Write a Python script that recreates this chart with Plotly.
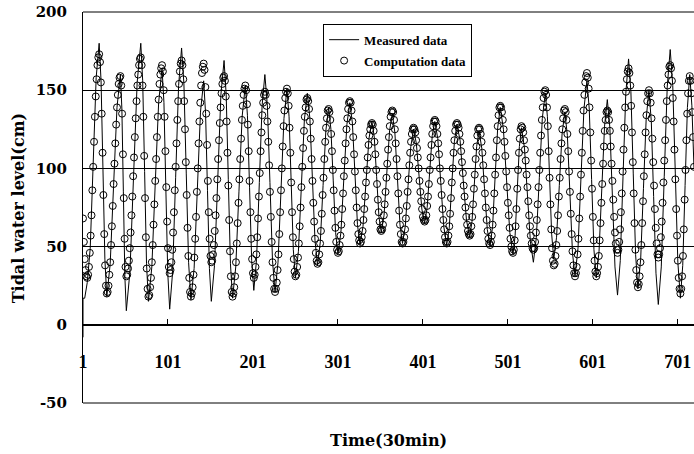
import plotly.graph_objects as go

# ---------------- data ----------------
# Computation data: one value per 30-min time step (t = 1 .. 720)
computation = [
    68, 53, 42, 35, 31, 30,
    32, 37, 46, 57, 70, 86, 101, 117, 133, 146, 157, 166, 171, 173,
    168, 155, 135, 110, 83, 58, 38, 25, 20,
    21, 25, 32, 40, 51, 63, 76, 90, 103, 116, 128, 139, 147, 154, 158, 159,
    153, 135, 109, 81, 55, 37, 31,
    32, 36, 41, 49, 59, 70, 82, 95, 107, 120, 132, 143, 153, 160, 166, 170, 171,
    166, 153, 133, 108, 81, 56, 36, 23, 18,
    19, 24, 30, 40, 51, 64, 77, 92, 106, 120, 133, 144, 154, 160, 164, 166,
    162, 150, 133, 111, 88, 66, 49, 37, 33,
    35, 40, 48, 59, 72, 86, 101, 116, 131, 143, 154, 162, 167, 169,
    166, 157, 143, 125, 104, 83, 62, 44, 30, 21, 18,
    20, 24, 32, 43, 55, 69, 85, 100, 116, 130, 142, 153, 161, 165, 167,
    163, 152, 135, 115, 92, 72, 55, 44, 40,
    41, 45, 51, 60, 70, 81, 93, 106, 118, 129, 139, 148, 154, 158, 159,
    156, 146, 130, 110, 89, 67, 47, 31, 21, 18,
    20, 24, 31, 40, 52, 65, 78, 93, 106, 119, 131, 140, 147, 151, 153,
    150, 141, 128, 111, 92, 72, 55, 42, 33, 30,
    32, 37, 45, 56, 68, 82, 97, 111, 123, 134, 142, 147, 149,
    147, 140, 130, 117, 102, 85, 69, 53, 40, 30, 23, 21,
    23, 27, 35, 45, 58, 72, 86, 100, 114, 127, 137, 145, 149, 151,
    148, 140, 126, 110, 91, 72, 56, 42, 34, 31,
    32, 37, 43, 52, 63, 75, 88, 101, 113, 124, 133, 139, 144, 145,
    143, 138, 130, 119, 106, 92, 78, 66, 55, 46, 41, 39,
    40, 45, 52, 60, 71, 83, 94, 106, 117, 126, 132, 137, 138,
    136, 131, 122, 111, 99, 86, 73, 62, 53, 48, 46,
    47, 51, 57, 64, 74, 84, 95, 105, 116, 125, 132, 138, 142, 143,
    142, 137, 130, 120, 109, 98, 86, 75, 65, 58, 54, 52,
    53, 56, 60, 67, 74, 82, 91, 99, 107, 115, 121, 125, 128, 129,
    128, 124, 117, 109, 99, 90, 80, 72, 66, 61, 60,
    61, 64, 70, 77, 85, 94, 103, 112, 120, 127, 133, 136, 137,
    136, 131, 125, 116, 106, 95, 84, 73, 64, 58, 53, 52,
    53, 56, 61, 68, 76, 85, 93, 102, 110, 117, 122, 125, 126,
    125, 123, 118, 113, 107, 100, 92, 85, 79, 74, 69, 67, 66,
    67, 70, 76, 82, 90, 99, 107, 115, 122, 127, 130, 131,
    130, 127, 122, 116, 109, 100, 92, 83, 74, 67, 61, 56, 53, 52,
    53, 57, 63, 71, 81, 91, 100, 110, 118, 124, 128, 129,
    128, 126, 122, 117, 111, 104, 97, 89, 82, 75, 69, 64, 60, 58, 57,
    58, 63, 69, 77, 87, 96, 106, 114, 121, 125, 126,
    125, 122, 117, 110, 102, 93, 84, 75, 67, 60, 55, 52, 51,
    53, 57, 64, 73, 84, 96, 107, 118, 127, 134, 139, 140,
    139, 136, 131, 125, 117, 108, 98, 88, 78, 70, 62, 55, 50, 47, 46,
    48, 54, 63, 74, 87, 99, 110, 119, 125, 127,
    126, 123, 118, 112, 105, 96, 88, 79, 70, 63, 57, 52, 49, 48,
    49, 53, 59, 67, 77, 88, 99, 110, 121, 131, 139, 145, 149, 150,
    147, 139, 127, 111, 94, 77, 61, 49, 41, 38,
    39, 44, 51, 60, 70, 82, 94, 106, 116, 125, 132, 137, 138,
    136, 131, 122, 111, 98, 85, 71, 58, 47, 38, 33, 31,
    33, 37, 45, 55, 68, 82, 96, 110, 124, 137, 147, 155, 159, 161,
    158, 151, 139, 123, 105, 87, 69, 54, 41, 34, 31,
    33, 37, 44, 54, 65, 78, 90, 103, 114, 124, 131, 136, 137,
    136, 131, 124, 114, 103, 92, 80, 69, 59, 52, 48, 46,
    48, 53, 61, 72, 84, 98, 112, 126, 139, 149, 157, 162, 164,
    161, 153, 140, 123, 104, 84, 65, 48, 35, 27, 24,
    26, 31, 40, 51, 65, 79, 95, 109, 123, 134, 143, 148, 150,
    148, 142, 132, 119, 104, 89, 74, 62, 52, 45, 43,
    45, 49, 56, 66, 78, 91, 105, 118, 131, 143, 153, 160, 165, 166,
    164, 156, 145, 130, 112, 93, 74, 57, 41, 30, 23, 20,
    23, 31, 44, 61, 80, 99, 118, 135, 148, 156, 159,
    156, 148, 136, 120, 101,
]
time_steps = list(range(1, len(computation) + 1))

# Measured data: curve vertices (time step, level in cm)
measured_t = [
    1, 1, 3, 6, 9.5, 13, 16.5, 20, 22.25, 24.5, 26.75, 29, 33, 37, 41, 45,
    46.75, 48.5, 50.25, 52, 56.25, 60.5, 64.75, 69, 71.25, 73.5, 75.75, 78,
    82, 86, 90, 94, 96.25, 98.5, 100.75, 103, 106.5, 110, 113.5, 117,
    119.75, 122.5, 125.25, 128, 131.75, 135.5, 139.25, 143, 145.25, 147.5, 149.75, 152,
    155.75, 159.5, 163.25, 167, 169.5, 172, 174.5, 177, 180.75, 184.5, 188.25, 192,
    194.5, 197, 199.5, 202, 205.25, 208.5, 211.75, 215, 218, 221, 224, 227,
    230.5, 234, 237.5, 241, 243.5, 246, 248.5, 251, 254.5, 258, 261.5, 265,
    268, 271, 274, 277, 280.25, 283.5, 286.75, 290, 292.75, 295.5, 298.25, 301,
    304.5, 308, 311.5, 315, 318, 321, 324, 327, 330.5, 334, 337.5, 341,
    343.75, 346.5, 349.25, 352, 355.25, 358.5, 361.75, 365, 368, 371, 374, 377,
    380.25, 383.5, 386.75, 390, 393.25, 396.5, 399.75, 403, 406, 409, 412, 415,
    418.5, 422, 425.5, 429, 432, 435, 438, 441, 444.75, 448.5, 452.25, 456,
    458.75, 461.5, 464.25, 467, 470.25, 473.5, 476.75, 480, 483, 486, 489, 492,
    495.75, 499.5, 503.25, 507, 509.5, 512, 514.5, 517, 520.5, 524, 527.5, 531,
    534.5, 538, 541.5, 545, 547.5, 550, 552.5, 555, 558.25, 561.5, 564.75, 568,
    571, 574, 577, 580, 583.5, 587, 590.5, 594, 596.75, 599.5, 602.25, 605,
    608.25, 611.5, 614.75, 618, 621, 624, 627, 630, 633.25, 636.5, 639.75, 643,
    645.75, 648.5, 651.25, 654, 657.25, 660.5, 663.75, 667, 669.75, 672.5, 675.25, 678,
    681.5, 685, 688.5, 692, 695, 698, 701, 704, 706.75, 709.5, 712.25, 715,
    717.5, 720,
]
measured_v = [
    -8, 17, 17, 27, 49, 104, 158, 180, 156, 99, 42, 18, 39, 89, 139, 160,
    138, 85, 31, 9, 34, 95, 155, 180, 156, 98, 39, 15,
    37, 90, 142, 164, 142, 87, 33, 10, 34, 94, 153, 177,
    154, 97, 40, 16, 36, 86, 136, 156, 135, 86, 36, 15,
    38, 92, 147, 169, 147, 93, 39, 17, 37, 85, 133, 153,
    134, 88, 41, 22, 42, 91, 140, 160, 140, 91, 41, 21,
    40, 86, 132, 151, 133, 91, 48, 30, 47, 89, 131, 148,
    132, 93, 54, 38, 53, 89, 124, 139, 125, 92, 59, 45,
    59, 94, 128, 142, 129, 97, 64, 51, 63, 91, 119, 130,
    120, 95, 69, 59, 70, 97, 124, 135, 123, 94, 64, 52,
    63, 89, 114, 125, 116, 95, 74, 65, 75, 98, 121, 130,
    119, 91, 63, 51, 62, 90, 117, 128, 118, 92, 67, 56,
    66, 90, 114, 124, 113, 87, 61, 50, 63, 95, 126, 139,
    125, 92, 59, 45, 57, 86, 114, 126, 113, 83, 53, 40,
    56, 94, 132, 148, 133, 95, 58, 42, 56, 89, 122, 136,
    121, 84, 46, 31, 49, 94, 138, 156, 138, 93, 48, 30,
    47, 87, 127, 144, 126, 82, 37, 19, 41, 95, 148, 170,
    149, 97, 45, 23, 42, 87, 132, 150, 130, 82, 33, 13,
    37, 95, 152, 176, 153, 97, 40, 17, 38, 89, 139, 160,
    140, 100,
]

x_tick_values = [1, 101, 201, 301, 401, 501, 601, 701]
x_tick_labels = ["1", "101", "201", "301", "401", "501", "601", "701"]
y_tick_values = [-50, 0, 50, 100, 150, 200]
y_tick_labels = ["-50", "0", "50", "100", "150", "200"]

# ---------------- figure ----------------
Y_FONT = dict(family="DejaVu Serif", size=15, color="black", weight="bold")
X_FONT = dict(family="Liberation Serif", size=18, color="black", weight="bold")

fig = go.Figure()
fig.add_trace(go.Scatter(
    x=measured_t, y=measured_v, mode="lines", name="Measured data",
    legendgroup="a", line=dict(color="black", width=1),
))
fig.add_trace(go.Scatter(
    x=time_steps, y=computation, mode="markers", name="Computation data",
    legendgroup="b",
    marker=dict(symbol="circle-open", size=7, color="black", line=dict(width=1, color="black")),
))

fig.update_layout(
    width=694, height=454,
    margin=dict(l=83, r=0, t=12, b=51, autoexpand=False),
    paper_bgcolor="white", plot_bgcolor="white",
    showlegend=True,
    legend=dict(
        x=0.393, y=0.97, xanchor="left", yanchor="top",
        bgcolor="white", bordercolor="black", borderwidth=1,
        font=dict(family="Liberation Serif", size=13, color="black", weight="bold"),
        tracegroupgap=1, traceorder="grouped",
    ),
    xaxis=dict(
        range=[1, 720], anchor="free", position=0.2, automargin=False,
        showline=True, linecolor="black", linewidth=1,
        ticks="inside", ticklen=6, tickcolor="black", tickwidth=1,
        tickvals=x_tick_values, ticktext=x_tick_labels,
        tickfont=X_FONT, ticklabelstandoff=21, ticklabeloverflow="allow",
        showgrid=False, zeroline=False,
    ),
    yaxis=dict(
        range=[-50, 200], automargin=False,
        showline=True, linecolor="black", linewidth=1,
        tickvals=y_tick_values, ticktext=y_tick_labels,
        tickfont=Y_FONT, ticks="", ticklabelstandoff=12, ticklabeloverflow="allow",
        showgrid=True, gridcolor="black", gridwidth=1,
        zeroline=False,
    ),
    shapes=[
        dict(type="line", xref="paper", yref="paper", x0=0, x1=1, y0=1, y1=1,
             line=dict(color="black", width=1)),
        dict(type="line", xref="paper", yref="paper", x0=0, x1=1, y0=0, y1=0,
             line=dict(color="black", width=1)),
    ],
    annotations=[
        dict(text="Time(30min)", xref="paper", yref="paper", x=0.5, y=-0.095,
             xanchor="center", yanchor="middle", showarrow=False,
             font=dict(family="DejaVu Serif", size=16, color="black", weight="bold")),
        dict(text="Tidal water level(cm)", xref="paper", yref="paper", x=-0.105, y=0.50,
             xanchor="center", yanchor="middle", textangle=-90, showarrow=False,
             font=dict(family="DejaVu Serif", size=16, color="black", weight="bold")),
    ],
)

# remove the browser's default 8px page margin so the figure sits at (0, 0)
fig.write_html(
    "out.html",
    config={"displayModeBar": False},
    post_script="document.body.style.margin='0';",
)
